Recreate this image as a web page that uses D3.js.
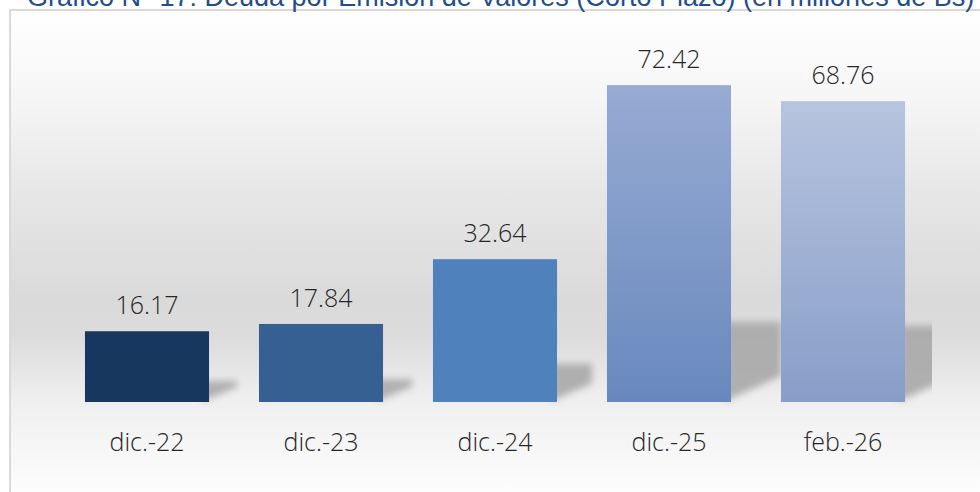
<!DOCTYPE html>
<html>
<head>
<meta charset="utf-8">
<script src="https://cdn.jsdelivr.net/npm/d3@7"></script>
<style>
  html, body { margin: 0; padding: 0; background: #ffffff; }
  svg { display: block; }
</style>
</head>
<body>
<svg id="chart" width="980" height="492"></svg>
<script>
// ---- data ----
const title = "Gráfico N° 17: Deuda por Emisión de Valores (Corto Plazo) (en millones de Bs)";
const categories = ["dic.-22", "dic.-23", "dic.-24", "dic.-25", "feb.-26"];
const values = [16.17, 17.84, 32.64, 72.42, 68.76];
const valueLabels = ["16.17", "17.84", "32.64", "72.42", "68.76"];
// bar colours: [top, bottom]
const barColors = [
  ["#17375e", "#17375e"],
  ["#366092", "#366092"],
  ["#4f81bd", "#4f81bd"],
  ["#97abd3", "#6888bd"],
  ["#b7c4df", "#889ec8"]
];

const W = 980, H = 492;
const svg = d3.select("#chart");
const defs = svg.append("defs");

// background gradient
const bg = defs.append("linearGradient").attr("id", "bgGrad")
  .attr("gradientUnits", "userSpaceOnUse")
  .attr("x1", 0).attr("y1", 10).attr("x2", 0).attr("y2", 492);
[[0, "#ffffff"], [0.18, "#f6f6f6"], [0.39, "#e6e6e6"], [0.6, "#dadada"], [0.68, "#dcdcdc"],
 [0.8, "#eeeeee"], [0.89, "#f5f5f5"], [1, "#fdfdfd"]]
  .forEach(([o, c]) => bg.append("stop").attr("offset", o).attr("stop-color", c));

svg.append("rect").attr("x", 10).attr("y", 10).attr("width", W + 10).attr("height", H + 10)
  .attr("fill", "url(#bgGrad)").attr("stroke", "#d9d9d9").attr("stroke-width", 2);

// shadow blur
defs.append("filter").attr("id", "blur").attr("x", "-50%").attr("y", "-50%")
  .attr("width", "200%").attr("height", "200%")
  .append("feGaussianBlur").attr("stdDeviation", 3.5);
defs.append("clipPath").attr("id", "plotClip")
  .append("rect").attr("x", 10).attr("y", 10).attr("width", 922).attr("height", 480);

barColors.forEach((c, i) => {
  const g = defs.append("linearGradient").attr("id", "barGrad" + i)
    .attr("x1", 0).attr("y1", 0).attr("x2", 0).attr("y2", 1);
  g.append("stop").attr("offset", 0).attr("stop-color", c[0]);
  g.append("stop").attr("offset", 1).attr("stop-color", c[1]);
});

// scales
const x = d3.scaleBand().domain(categories).range([60, 930])
  .paddingInner(0.287).paddingOuter(0.1435);
const y = d3.scaleLinear().domain([0, 80]).range([402, 52]);

const data = categories.map((c, i) => ({ c, v: values[i], label: valueLabels[i], i }));
const base = y(0);

// shadows
svg.append("g").attr("clip-path", "url(#plotClip)")
  .selectAll("polygon").data(data).join("polygon")
  .attr("filter", "url(#blur)")
  .attr("fill", "#a9a9a9")
  .attr("opacity", 0.9)
  .attr("points", d => {
    const x1 = x(d.c) + x.bandwidth();
    const h = base - y(d.v);
    const sh = 0.24 * h + 4;
    const dx = 22 + 0.09 * h;
    return [[x1 - 6, base - 1], [x1 + dx, base - 1 - 0.5 * dx], [x1 + dx, base - sh], [x1 - 6, base - sh]]
      .map(p => p.join(",")).join(" ");
  });

// bars
svg.append("g").selectAll("rect").data(data).join("rect")
  .attr("x", d => x(d.c))
  .attr("y", d => y(d.v))
  .attr("width", x.bandwidth())
  .attr("height", d => base - y(d.v))
  .attr("fill", d => `url(#barGrad${d.i})`);

// value labels
svg.append("g").selectAll("text").data(data).join("text")
  .attr("x", d => x(d.c) + x.bandwidth() / 2)
  .attr("y", d => y(d.v) - 17)
  .attr("text-anchor", "middle")
  .attr("font-family", "'Open Sans', sans-serif")
  .attr("font-weight", 300)
  .attr("font-size", 25)
  .attr("fill", "#262626")
  .text(d => d.label);

// category axis
const axis = svg.append("g").attr("transform", `translate(0,${base})`)
  .call(d3.axisBottom(x).tickSize(0));
axis.select(".domain").remove();
axis.selectAll("text")
  .attr("y", 49).attr("dy", 0)
  .attr("font-family", "'Open Sans', sans-serif")
  .attr("font-weight", 300)
  .attr("font-size", 25)
  .attr("fill", "#262626");

// title (clipped at top of page, as in the reference)
const t = svg.append("text")
  .attr("x", 27).attr("y", 5.5)
  .attr("font-family", "'Liberation Sans', Arial, sans-serif")
  .attr("font-size", 22)
  .attr("fill", "#1f4e8c")
  .text(title);
const len = t.node().getComputedTextLength();
t.attr("font-size", 22 * 948 / len);
</script>
</body>
</html>
